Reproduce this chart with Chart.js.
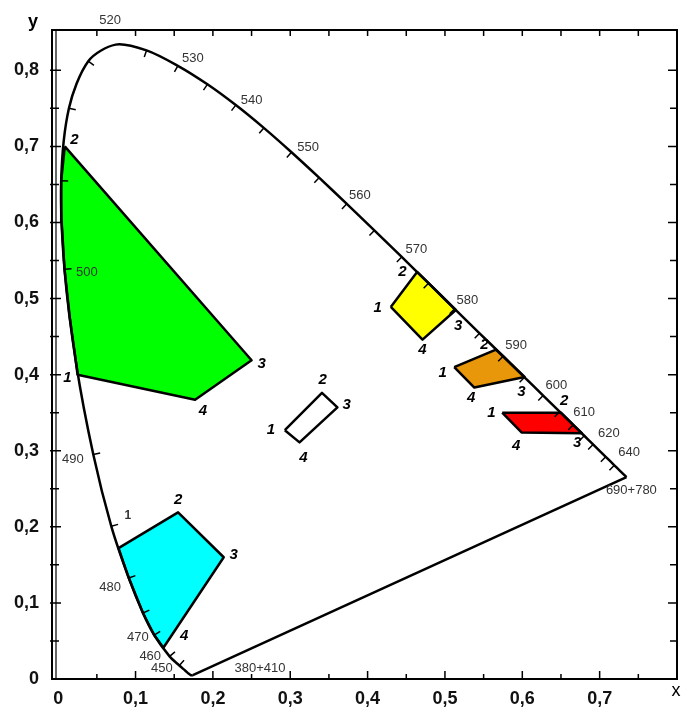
<!DOCTYPE html>
<html>
<head>
<meta charset="utf-8">
<script src="https://cdn.jsdelivr.net/npm/chart.js@4"></script>
<style>
  html, body { margin: 0; padding: 0; background: #fff; }
  #wrap { width: 683px; height: 707px; }
</style>
</head>
<body>
<div id="wrap"><canvas id="cie"></canvas></div>
<script>
// spectral locus (CIE 1931), wavelength / x / y
const locusNm = [380, 390, 400, 410, 420, 430, 440, 450, 460, 470, 475, 480, 485, 490, 495, 500, 505, 510, 515, 520, 525, 530, 535, 540, 545, 550, 555, 560, 565, 570, 575, 580, 585, 590, 595, 600, 605, 610, 615, 620, 625, 630, 635, 640, 650, 660, 680, 700, 780];
const locusX = [0.1741, 0.1738, 0.1733, 0.1726, 0.1714, 0.1689, 0.1644, 0.1566, 0.1440, 0.1241, 0.1096, 0.0913, 0.0687, 0.0454, 0.0235, 0.0082, 0.0039, 0.0139, 0.0389, 0.0743, 0.1142, 0.1547, 0.1929, 0.2296, 0.2658, 0.3016, 0.3373, 0.3731, 0.4087, 0.4441, 0.4788, 0.5125, 0.5448, 0.5752, 0.6029, 0.6270, 0.6482, 0.6658, 0.6801, 0.6915, 0.7006, 0.7079, 0.7140, 0.7190, 0.7260, 0.7300, 0.7334, 0.7347, 0.7347];
const locusY = [0.0050, 0.0049, 0.0048, 0.0048, 0.0051, 0.0069, 0.0109, 0.0177, 0.0297, 0.0578, 0.0868, 0.1327, 0.2007, 0.2950, 0.4127, 0.5384, 0.6548, 0.7502, 0.8120, 0.8338, 0.8262, 0.8059, 0.7816, 0.7543, 0.7243, 0.6923, 0.6589, 0.6245, 0.5896, 0.5547, 0.5202, 0.4866, 0.4544, 0.4242, 0.3965, 0.3725, 0.3514, 0.3340, 0.3197, 0.3083, 0.2993, 0.2920, 0.2859, 0.2809, 0.2740, 0.2700, 0.2666, 0.2653, 0.2653];
const tickedNm = [450, 460, 470, 475, 480, 485, 490, 500, 505, 510, 515, 525, 530, 535, 540, 545, 550, 555, 560, 565, 570, 575, 580, 585, 590, 595, 600, 605, 610, 615, 620, 630, 640];

// colour regions (corner 2 -> 3 -> 4 -> 1, closed)
const greenX = [0.0085, 0.250, 0.177, 0.025, 0.0235, 0.015, 0.0082, 0.0045, 0.0039, 0.0085];
const greenY = [0.700, 0.419, 0.367, 0.400, 0.4127, 0.475, 0.5384, 0.600, 0.6548, 0.700];
const cyanX = [0.078, 0.155, 0.214, 0.136, 0.1241, 0.1096, 0.0913, 0.078];
const cyanY = [0.172, 0.219, 0.160, 0.041, 0.0578, 0.0868, 0.1327, 0.172];
const whiteX = [0.293, 0.341, 0.361, 0.312, 0.293];
const whiteY = [0.327, 0.376, 0.357, 0.311, 0.327];
const yellowX = [0.430, 0.464, 0.4788, 0.514, 0.471, 0.430];
const yellowY = [0.489, 0.535, 0.5202, 0.485, 0.446, 0.489];
const orangeX = [0.512, 0.566, 0.5752, 0.603, 0.538, 0.512];
const orangeY = [0.410, 0.433, 0.4242, 0.397, 0.383, 0.410];
const redX = [0.574, 0.650, 0.6658, 0.677, 0.599, 0.574];
const redY = [0.350, 0.350, 0.3340, 0.323, 0.324, 0.350];

// corner numbers
const cornerText = ['2', '3', '4', '1', '2', '3', '4', '1', '2', '3', '4', '1', '2', '3', '4', '1', '2', '3', '4', '1', '2', '3', '4'];
const cornerX = [0.021, 0.263, 0.187, 0.012, 0.155, 0.227, 0.163, 0.275, 0.342, 0.373, 0.317, 0.413, 0.445, 0.517, 0.471, 0.497, 0.551, 0.599, 0.534, 0.560, 0.654, 0.671, 0.592];
const cornerY = [0.708, 0.414, 0.353, 0.396, 0.235, 0.163, 0.057, 0.327, 0.393, 0.360, 0.290, 0.488, 0.535, 0.464, 0.432, 0.402, 0.439, 0.378, 0.369, 0.350, 0.365, 0.311, 0.306];

// wavelength labels along the locus
const wlText = ['520', '530', '540', '550', '560', '570', '580', '590', '600', '610', '620', '640', '690+780', '500', '490', '480', '470', '460', '450', '380+410', '1'];
const wlX = [0.067, 0.174, 0.250, 0.323, 0.390, 0.463, 0.529, 0.592, 0.644, 0.680, 0.712, 0.738, 0.741, 0.037, 0.019, 0.067, 0.103, 0.119, 0.134, 0.261, 0.090];
const wlY = [0.865, 0.815, 0.761, 0.699, 0.636, 0.564, 0.498, 0.439, 0.386, 0.350, 0.323, 0.298, 0.248, 0.535, 0.288, 0.121, 0.054, 0.030, 0.014, 0.014, 0.214];

const xTicks = [0, 0.1, 0.2, 0.3, 0.4, 0.5, 0.6, 0.7];
const yTicks = [0, 0.1, 0.2, 0.3, 0.4, 0.5, 0.6, 0.7, 0.8];

function pts(xs, ys) {
    return xs.map((x, i) => ({ x: x, y: ys[i] }));
}

function region(xs, ys, color) {
    return {
        data: pts(xs, ys),
        showLine: true,
        fill: 'shape',
        backgroundColor: color,
        borderColor: '#000',
        borderWidth: 2.5,
        borderJoinStyle: 'round',
        pointRadius: 0,
        tension: 0
    };
}

// purple line closes the locus: 780 back to 380
const purplePts = [
    { x: locusX[locusX.length - 1], y: locusY[locusY.length - 1] },
    { x: locusX[0], y: locusY[0] }
];

const overlay = {
    id: 'overlay',
    afterDatasetsDraw(chart) {
        const ctx = chart.ctx;
        const a = chart.chartArea;
        const sx = chart.scales.x, sy = chart.scales.y;
        const px = v => sx.getPixelForValue(v);
        const py = v => sy.getPixelForValue(v);
        ctx.save();
        ctx.strokeStyle = '#000';
        ctx.fillStyle = '#000';

        // frame
        ctx.lineWidth = 2;
        ctx.strokeRect(a.left, a.top, a.right - a.left, a.bottom - a.top);
        ctx.lineWidth = 1.2;
        ctx.beginPath();
        ctx.moveTo(a.left + 4, a.top);
        ctx.lineTo(a.left + 4, a.bottom);
        ctx.stroke();

        // frame ticks every 0.05
        ctx.lineWidth = 1.5;
        ctx.beginPath();
        for (let k = 1; k <= 16; k++) {
            const v = k * 0.05;
            const len = k % 2 === 0 ? 9 : 7;
            const y = py(v);
            ctx.moveTo(a.left - 2, y); ctx.lineTo(a.left + len, y);
            ctx.moveTo(a.right, y); ctx.lineTo(a.right - len, y);
            if (v < 0.8) {
                const x = px(v);
                ctx.moveTo(x, a.bottom); ctx.lineTo(x, a.bottom - (k % 2 === 0 ? 8 : 5));
                ctx.moveTo(x, a.top); ctx.lineTo(x, a.top + 6);
            }
        }
        ctx.stroke();

        // locus wavelength ticks, pointing inward
        const wx = px(0.333), wy = py(0.333);
        ctx.lineWidth = 1.5;
        ctx.beginPath();
        tickedNm.forEach(nm => {
            const i = locusNm.indexOf(nm);
            if (i < 1) return;
            const x0 = px(locusX[i - 1]), y0 = py(locusY[i - 1]);
            const x1 = px(locusX[i + 1]), y1 = py(locusY[i + 1]);
            const x = px(locusX[i]), y = py(locusY[i]);
            let nx = -(y1 - y0), ny = x1 - x0;
            const l = Math.hypot(nx, ny) || 1;
            nx /= l; ny /= l;
            if (nx * (wx - x) + ny * (wy - y) < 0) { nx = -nx; ny = -ny; }
            ctx.moveTo(x, y);
            ctx.lineTo(x + nx * 7, y + ny * 7);
        });
        ctx.stroke();

        // wavelength labels
        ctx.textAlign = 'center';
        ctx.textBaseline = 'middle';
        ctx.fillStyle = '#333';
        ctx.font = '13px "Liberation Sans", Arial, sans-serif';
        wlText.forEach((t, i) => {
            if (t === '1') ctx.font = 'bold 12px "Liberation Sans", Arial, sans-serif';
            ctx.fillText(t, px(wlX[i]), py(wlY[i]));
        });

        // corner numbers
        ctx.fillStyle = '#000';
        ctx.font = 'italic bold 15px "Liberation Sans", Arial, sans-serif';
        cornerText.forEach((t, i) => {
            ctx.fillText(t, px(cornerX[i]), py(cornerY[i]));
        });

        // axis letters
        ctx.font = 'bold 18px "Liberation Sans", Arial, sans-serif';
        ctx.fillText('y', 33, a.top - 8);
        ctx.font = '18px "Liberation Sans", Arial, sans-serif';
        ctx.fillText('x', 676, a.bottom + 12);
        ctx.restore();
    }
};

new Chart(document.getElementById('cie'), {
    type: 'scatter',
    data: {
        datasets: [
            {
                data: pts(locusX, locusY),
                showLine: true,
                fill: false,
                borderColor: '#000',
                borderWidth: 2.5,
                pointRadius: 0,
                tension: 0.3
            },
            {
                data: purplePts,
                showLine: true,
                fill: false,
                borderColor: '#000',
                borderWidth: 2.5,
                pointRadius: 0,
                tension: 0
            },
            region(greenX, greenY, '#00ff00'),
            region(cyanX, cyanY, '#00ffff'),
            region(whiteX, whiteY, '#ffffff'),
            region(yellowX, yellowY, '#ffff00'),
            region(orangeX, orangeY, '#e8960a'),
            region(redX, redY, '#ff0000')
        ]
    },
    options: {
        responsive: true,
        maintainAspectRatio: false,
        animation: false,
        layout: { padding: { left: 0, top: 30, right: 6, bottom: 0 } },
        plugins: { legend: { display: false }, tooltip: { enabled: false } },
        scales: {
            x: {
                type: 'linear',
                min: -0.008,
                max: 0.8,
                grid: { display: false },
                border: { display: false },
                afterBuildTicks: s => { s.ticks = xTicks.map(v => ({ value: v })); },
                afterFit: s => { s.height = 28; },
                ticks: {
                    padding: 1,
                    color: '#111',
                    font: { family: '"Liberation Sans", Arial, sans-serif', size: 18, weight: 'bold' },
                    callback: v => String(Math.round(v * 10) / 10).replace('.', ',')
                }
            },
            y: {
                type: 'linear',
                min: 0,
                max: 0.853,
                grid: { display: false },
                border: { display: false },
                afterBuildTicks: s => { s.ticks = yTicks.map(v => ({ value: v })); },
                afterFit: s => { s.width = 52; },
                ticks: {
                    padding: 5,
                    color: '#111',
                    font: { family: '"Liberation Sans", Arial, sans-serif', size: 18, weight: 'bold' },
                    callback: v => String(Math.round(v * 10) / 10).replace('.', ',')
                }
            }
        }
    },
    plugins: [overlay]
});
</script>
</body>
</html>
